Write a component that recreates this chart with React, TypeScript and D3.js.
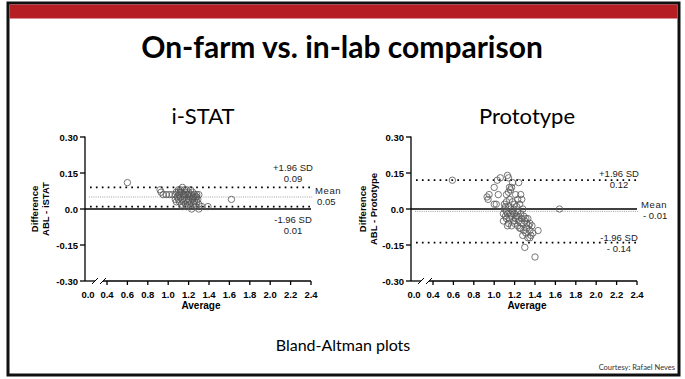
import React from 'react';
import * as d3 from 'd3';

// Bland-Altman data, [average, difference]
const istatPoints: [number, number][] = [
  [0.6, 0.11], [0.92, 0.08], [0.93, 0.07], [1.62, 0.04], [1.39, 0.01], [1.33, 0.01], [1.3, 0.0], [1.23, 0.0],
  [0.95, 0.06], [0.98, 0.06], [1.01, 0.06], [1.04, 0.06], [1.07, 0.06],
  [1.08, 0.07], [1.1, 0.08], [1.12, 0.08], [1.14, 0.09], [1.16, 0.08], [1.18, 0.08], [1.2, 0.07], [1.22, 0.08],
  [1.24, 0.07], [1.26, 0.06], [1.28, 0.06], [1.3, 0.06],
  [1.09, 0.05], [1.11, 0.06], [1.13, 0.07], [1.15, 0.06], [1.17, 0.07], [1.19, 0.06], [1.21, 0.05], [1.23, 0.06],
  [1.25, 0.05], [1.27, 0.05], [1.29, 0.04],
  [1.07, 0.04], [1.1, 0.04], [1.12, 0.05], [1.14, 0.04], [1.16, 0.05], [1.18, 0.04], [1.2, 0.04], [1.22, 0.03],
  [1.24, 0.04], [1.26, 0.03], [1.28, 0.03], [1.3, 0.02],
  [1.08, 0.03], [1.11, 0.03], [1.13, 0.02], [1.15, 0.03], [1.17, 0.02], [1.19, 0.03], [1.21, 0.02], [1.25, 0.02],
  [1.27, 0.01], [1.14, 0.01], [1.18, 0.01], [1.22, 0.01], [1.12, 0.07], [1.16, 0.06], [1.2, 0.06], [1.24, 0.05],
  [1.1, 0.07], [1.28, 0.05],
];

const protoPoints: [number, number][] = [
  [0.59, 0.12], [1.03, 0.12], [1.06, 0.13], [1.13, 0.14], [1.14, 0.13], [1.18, 0.11], [1.24, 0.11], [1.15, 0.09],
  [1.17, 0.09], [1.0, 0.09], [0.93, 0.05], [0.94, 0.04], [0.95, 0.06], [1.04, 0.06], [1.12, 0.06], [1.26, 0.06],
  [1.0, 0.02], [1.02, 0.02], [1.27, 0.04], [1.16, 0.08], [1.14, 0.07], [1.64, 0.0],
  [1.1, 0.02], [1.12, 0.03], [1.15, 0.04], [1.18, 0.03], [1.2, 0.02], [1.22, 0.01], [1.25, 0.02], [1.28, 0.0],
  [1.1, 0.0], [1.12, -0.01], [1.14, 0.01], [1.16, 0.0], [1.18, -0.01], [1.2, -0.02], [1.23, -0.01], [1.26, -0.02],
  [1.29, -0.03], [1.31, -0.04], [1.09, -0.02], [1.11, -0.03], [1.13, -0.02], [1.15, -0.04], [1.17, -0.03],
  [1.19, -0.05], [1.21, -0.04], [1.24, -0.05], [1.27, -0.06], [1.3, -0.05], [1.33, -0.04], [1.35, -0.06],
  [1.09, -0.05], [1.14, -0.06], [1.17, -0.07], [1.2, -0.06], [1.23, -0.07], [1.26, -0.08], [1.29, -0.09],
  [1.32, -0.08], [1.35, -0.09], [1.37, -0.07], [1.13, -0.07], [1.25, -0.08], [1.28, -0.11], [1.31, -0.1],
  [1.33, -0.12], [1.35, -0.12], [1.38, -0.1], [1.43, -0.09], [1.3, -0.16], [1.4, -0.2], [1.36, -0.11],
  [1.22, -0.03], [1.19, 0.0], [1.24, -0.03], [1.27, -0.04], [1.32, -0.06], [1.34, -0.07], [1.12, -0.04],
  [1.16, -0.02], [1.21, 0.06], [1.23, 0.04], [1.11, 0.01],
];

const xTicks = [0.4, 0.6, 0.8, 1.0, 1.2, 1.4, 1.6, 1.8, 2.0, 2.2, 2.4];
const yTicks = [0.3, 0.15, 0, -0.15, -0.3];

const istatLimits = { upper: 0.09, mean: 0.05, lower: 0.01 };
const protoLimits = { upper: 0.12, mean: -0.01, lower: -0.14 };

const istatLabels = { upper: '0.09', mean: '0.05', lower: '0.01' };
const protoLabels = { upper: '0.12', mean: '- 0.01', lower: '- 0.14' };

const axisFont = '"Liberation Sans", Arial, sans-serif';
const slideFont = 'Lato, "Open Sans", sans-serif';

interface PanelProps {
  x0: number;
  title: string;
  titleX: number;
  yLabel: string;
  labelX: number;
  points: [number, number][];
  limits: { upper: number; mean: number; lower: number };
  labels: { upper: string; mean: string; lower: string };
  upShift: number; // where the limit labels sit relative to their line
  lowShift: number;
}

const Panel: React.FC<PanelProps> = ({ x0, title, titleX, yLabel, labelX, points, limits, labels, upShift, lowShift }) => {
  const y = d3.scaleLinear().domain([-0.3, 0.3]).range([281, 137]);
  const x = d3.scaleLinear().domain([0.4, 2.4]).range([x0 + 22, x0 + 226]);
  const yBottom = y(-0.3);
  const xEnd = x(2.4);
  const labelMid = xEnd - 18;

  return (
    <g>
      <text x={titleX} y={124} textAnchor="middle" fontFamily={slideFont} fontSize={22}>{title}</text>

      {/* y label */}
      <g transform={`translate(${labelX},209) rotate(-90)`} fontFamily={axisFont} fontWeight="bold" fontSize={9.5} textAnchor="middle">
        <text x={0} y={0}>Difference</text>
        <text x={0} y={11}>{yLabel}</text>
      </g>

      {/* reference lines */}
      <line x1={x0} x2={xEnd} y1={y(0)} y2={y(0)} stroke="#000" strokeWidth={1.5} />
      <line x1={x0 + 4} x2={xEnd + 2} y1={y(limits.mean)} y2={y(limits.mean)} stroke="#8a8a8a" strokeWidth={0.8} strokeDasharray="1,1.2" />
      <line x1={x0 + 5} x2={xEnd + 2} y1={y(limits.upper)} y2={y(limits.upper)} stroke="#000" strokeWidth={1.7} strokeDasharray="1.7,4.2" />
      <line x1={x0 + 5} x2={xEnd + 2} y1={y(limits.lower)} y2={y(limits.lower)} stroke="#000" strokeWidth={1.7} strokeDasharray="1.7,4.2" />

      {/* points */}
      {points.map(([a, d], i) => (
        <circle key={i} cx={x(a)} cy={y(d)} r={3.2} fill="none" stroke="#555" strokeWidth={0.8} />
      ))}

      {/* y axis */}
      <line x1={x0} x2={x0} y1={y(0.3) - 0.5} y2={yBottom} stroke="#000" strokeWidth={1.3} />
      {yTicks.map((t) => (
        <g key={t}>
          <line x1={x0 - 5} x2={x0} y1={y(t)} y2={y(t)} stroke="#000" strokeWidth={1.3} />
          <text x={x0 - 7} y={y(t) + 3.5} textAnchor="end" fontFamily={axisFont} fontWeight="bold" fontSize={9.5}>
            {t === 0 ? '0.0' : t.toFixed(2)}
          </text>
        </g>
      ))}

      {/* x axis, broken */}
      <line x1={x0} x2={x0 + 10} y1={yBottom} y2={yBottom} stroke="#000" strokeWidth={1.3} />
      <line x1={x0 + 7} x2={x0 + 13} y1={yBottom + 3} y2={yBottom - 3} stroke="#000" strokeWidth={1} />
      <line x1={x0 + 15} x2={x0 + 21} y1={yBottom + 3} y2={yBottom - 3} stroke="#000" strokeWidth={1} />
      <line x1={x0 + 18} x2={xEnd} y1={yBottom} y2={yBottom} stroke="#000" strokeWidth={1.3} />
      <text x={x0 + 3} y={yBottom + 17} textAnchor="middle" fontFamily={axisFont} fontWeight="bold" fontSize={9.5}>0.0</text>
      {xTicks.map((t) => (
        <g key={t}>
          <line x1={x(t)} x2={x(t)} y1={yBottom} y2={yBottom + 4} stroke="#000" strokeWidth={1.3} />
          <text x={x(t)} y={yBottom + 17} textAnchor="middle" fontFamily={axisFont} fontWeight="bold" fontSize={9.5}>
            {t.toFixed(1)}
          </text>
        </g>
      ))}
      <text x={(x0 + xEnd) / 2 + 3} y={yBottom + 28} textAnchor="middle" fontFamily={axisFont} fontWeight="bold" fontSize={10}>Average</text>

      {/* limit labels */}
      <g fontFamily={axisFont} fontSize={9.5} fill="#222">
        <text x={labelMid} y={y(limits.upper) + upShift} textAnchor="middle">+1.96 SD</text>
        <text x={labelMid} y={y(limits.upper) + upShift + 11} textAnchor="middle">{labels.upper}</text>
        <text x={xEnd + 4} y={y(limits.mean) - 3} textAnchor="start" letterSpacing={0.6}>Mean</text>
        <text x={xEnd + 6} y={y(limits.mean) + 8} textAnchor="start">{labels.mean}</text>
        <text x={labelMid} y={y(limits.lower) + lowShift} textAnchor="middle">-1.96 SD</text>
        <text x={labelMid} y={y(limits.lower) + lowShift + 11} textAnchor="middle">{labels.lower}</text>
      </g>
    </g>
  );
};

const App: React.FC = () => {
  return (
    <div style={{ position: 'absolute', left: 0, top: 0 }}>
      <svg width={685} height={379} style={{ display: 'block', background: '#fff' }}>
        <rect x={0} y={0} width={685} height={379} fill="#fff" />
        {/* slide frame */}
        <rect x={8} y={3} width={671} height={372} fill="none" stroke="#111" strokeWidth={3} />
        <rect x={9.5} y={4.5} width={668} height={14} fill="#b51f24" />

        <text x={342} y={58} textAnchor="middle" fontFamily={slideFont} fontWeight="bold" fontSize={30}>
          On-farm vs. in-lab comparison
        </text>

        <Panel x0={85} title="i-STAT" titleX={203} yLabel="ABL - iSTAT" labelX={38} points={istatPoints}
          limits={istatLimits} labels={istatLabels} upShift={-16} lowShift={16} />
        <Panel x0={411} title="Prototype" titleX={527} yLabel="ABL - Prototype" labelX={366} points={protoPoints}
          limits={protoLimits} labels={protoLabels} upShift={-3} lowShift={-2} />

        <text x={343} y={351} textAnchor="middle" fontFamily={slideFont} fontSize={16}>Bland-Altman plots</text>
        <text x={675} y={370} textAnchor="end" fontFamily={slideFont} fontSize={7.5} fill="#333">Courtesy: Rafael Neves</text>
      </svg>
    </div>
  );
};

export default App;
